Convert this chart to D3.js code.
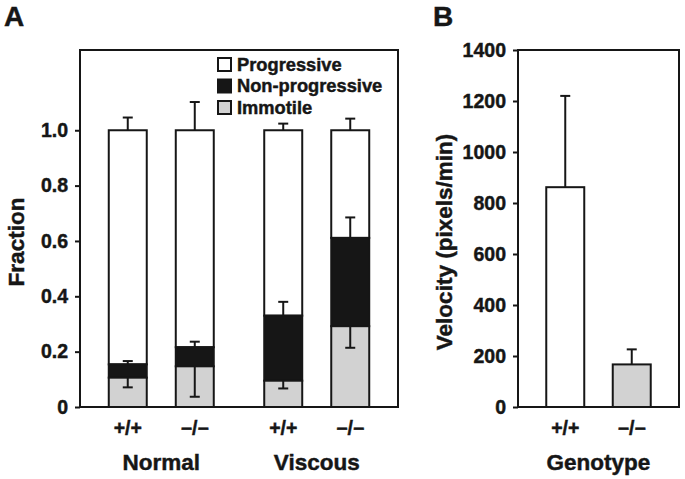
<!DOCTYPE html>
<html><head><meta charset="utf-8">
<script src="https://cdn.jsdelivr.net/npm/d3@7"></script>
<style>body{margin:0;background:#fff}</style></head><body>
<svg id="c" width="685" height="479"></svg>
<script>
// ---- data ----
const groups = ["Normal", "Viscous"];
const genotypes = ["+/+", "\u2212/\u2212"];
const seriesNames = ["Progressive", "Non-progressive", "Immotile"];
const immotile       = [0.106, 0.147, 0.095, 0.292];
const nonProgressive = [0.048, 0.069, 0.235, 0.319];
const progressive    = [0.846, 0.784, 0.670, 0.389];
const immotileErr    = [0.035, 0.110, 0.028, 0.078];
const nonProgErr     = [0.012, 0.020, 0.050, 0.074];
const progErr        = [0.046, 0.102, 0.024, 0.042];
const fractionTicks  = [0, 0.2, 0.4, 0.6, 0.8, 1.0];
const velocity       = [862, 167];
const velocityErr    = [358, 59];
const velocityTicks  = [0, 200, 400, 600, 800, 1000, 1200, 1400];
const fractionMax = 1.29, velocityMax = 1400;

// ---- styles ----
const INK = "#161616";
const GRAY = "#d2d2d2";
const fills = {"Progressive": "#ffffff", "Non-progressive": "#161616", "Immotile": GRAY};
const FONT = "'Liberation Sans', Arial, Helvetica, sans-serif";
const TICK = 19.5, TITLE = 22.5, LEG = 18.3;

const svg = d3.select("#c");
function txt(sel, size) {
  return sel.attr("font-family", FONT).attr("font-weight", "bold").attr("font-size", size)
    .attr("fill", INK).attr("stroke", INK).attr("stroke-width", 0.45);
}

// ---- Panel A ----
const A = {l: 80, r: 398, t: 50, b: 407};
const yA = d3.scaleLinear().domain([0, fractionMax]).range([A.b, A.t]);
const xOuter = d3.scaleBand().domain(groups).range([A.l, A.r]).paddingInner(0.138).paddingOuter(0.0917);
const xInner = d3.scaleBand().domain(genotypes).range([0, xOuter.bandwidth()]).paddingInner(0.433).paddingOuter(0.2165);

const rows = [];
groups.forEach((g, gi) => genotypes.forEach((gt, ti) => {
  const i = gi * genotypes.length + ti;
  rows.push({group: g, genotype: gt, "Immotile": immotile[i], "Non-progressive": nonProgressive[i],
    "Progressive": progressive[i], err: {"Immotile": immotileErr[i], "Non-progressive": nonProgErr[i], "Progressive": progErr[i]}});
}));
const stack = d3.stack().keys(["Immotile", "Non-progressive", "Progressive"]);
const layers = stack(rows);
const bx = d => xOuter(d.data.group) + xInner(d.data.genotype);
const capW = 10;

// bars
const barG = svg.append("g");
layers.slice().reverse().forEach(layer => {
  barG.selectAll(null).data(layer).join("rect")
    .attr("x", d => bx(d))
    .attr("width", xInner.bandwidth())
    .attr("y", d => yA(d[1]))
    .attr("height", d => yA(d[0]) - yA(d[1]))
    .attr("fill", fills[layer.key])
    .attr("stroke", INK).attr("stroke-width", 2);
});
// error bars: immotile downward, others upward from segment tops
const errG = svg.append("g").attr("stroke", INK).attr("stroke-width", 2);
layers.forEach(layer => {
  layer.forEach(d => {
    const cx = bx(d) + xInner.bandwidth() / 2;
    const e = d.data.err[layer.key];
    const y0 = d[1];
    const y1 = layer.key === "Immotile" ? y0 - e : y0 + e;
    errG.append("line").attr("x1", cx).attr("x2", cx).attr("y1", yA(y0)).attr("y2", yA(y1));
    errG.append("line").attr("x1", cx - capW / 2).attr("x2", cx + capW / 2).attr("y1", yA(y1)).attr("y2", yA(y1));
  });
});

// frame
svg.append("rect").attr("x", A.l).attr("y", A.t).attr("width", A.r - A.l).attr("height", A.b - A.t)
  .attr("fill", "none").attr("stroke", INK).attr("stroke-width", 2);

// y axis
const axA = svg.append("g").attr("transform", `translate(${A.l},0)`)
  .call(d3.axisLeft(yA).tickValues(fractionTicks).tickSize(5).tickPadding(7)
    .tickFormat(d => d === 0 ? "0" : d3.format(".1f")(d)));
axA.select(".domain").remove();
axA.selectAll("line").attr("stroke", INK).attr("stroke-width", 2);
txt(axA.selectAll("text"), TICK);

// x labels
txt(svg.append("g").selectAll(null).data(rows).join("text")
  .attr("x", d => xOuter(d.group) + xInner(d.genotype) + xInner.bandwidth() / 2)
  .attr("y", 435).attr("text-anchor", "middle"), TICK)
  .text(d => d.genotype);
txt(svg.append("g").selectAll(null).data(groups).join("text")
  .attr("x", d => xOuter(d) + xOuter.bandwidth() / 2).attr("y", 470).attr("text-anchor", "middle"), TITLE)
  .text(d => d);

// y title
txt(svg.append("text").attr("transform", "translate(24,242) rotate(-90)").attr("text-anchor", "middle"), TITLE)
  .text("Fraction");

// legend
const leg = svg.append("g");
seriesNames.forEach((s, i) => {
  const yy = 58 + i * 21.5;
  leg.append("rect").attr("x", 218).attr("y", yy).attr("width", 13).attr("height", 13)
    .attr("fill", fills[s]).attr("stroke", INK).attr("stroke-width", 2);
  txt(leg.append("text").attr("x", 237).attr("y", yy + 12.5), LEG).text(s);
});

// panel label
txt(svg.append("text").attr("x", 4).attr("y", 26), 28).text("A");

// ---- Panel B ----
const B = {l: 518, r: 679, t: 50, b: 407};
const yB = d3.scaleLinear().domain([0, velocityMax]).range([B.b, B.t]);
const xB = d3.scaleBand().domain(genotypes).range([B.l, B.r]).paddingInner(0.4286).paddingOuter(0.425);
const vData = genotypes.map((g, i) => ({genotype: g, v: velocity[i], e: velocityErr[i]}));

svg.append("g").selectAll(null).data(vData).join("rect")
  .attr("x", d => xB(d.genotype)).attr("width", xB.bandwidth())
  .attr("y", d => yB(d.v)).attr("height", d => yB(0) - yB(d.v))
  .attr("fill", (d, i) => i === 0 ? "#ffffff" : GRAY)
  .attr("stroke", INK).attr("stroke-width", 2);
const eB = svg.append("g").attr("stroke", INK).attr("stroke-width", 2);
vData.forEach(d => {
  const cx = xB(d.genotype) + xB.bandwidth() / 2;
  eB.append("line").attr("x1", cx).attr("x2", cx).attr("y1", yB(d.v)).attr("y2", yB(d.v + d.e));
  eB.append("line").attr("x1", cx - capW / 2).attr("x2", cx + capW / 2).attr("y1", yB(d.v + d.e)).attr("y2", yB(d.v + d.e));
});

svg.append("rect").attr("x", B.l).attr("y", B.t).attr("width", B.r - B.l).attr("height", B.b - B.t)
  .attr("fill", "none").attr("stroke", INK).attr("stroke-width", 2);

const axB = svg.append("g").attr("transform", `translate(${B.l},0)`)
  .call(d3.axisLeft(yB).tickValues(velocityTicks).tickSize(5).tickPadding(7).tickFormat(d3.format("d")));
axB.select(".domain").remove();
axB.selectAll("line").attr("stroke", INK).attr("stroke-width", 2);
txt(axB.selectAll("text"), TICK);

txt(svg.append("g").selectAll(null).data(genotypes).join("text")
  .attr("x", d => xB(d) + xB.bandwidth() / 2).attr("y", 435).attr("text-anchor", "middle"), TICK)
  .text(d => d);
txt(svg.append("text").attr("x", (B.l + B.r) / 2).attr("y", 470).attr("text-anchor", "middle"), TITLE)
  .text("Genotype");
txt(svg.append("text").attr("transform", "translate(452,242) rotate(-90)").attr("text-anchor", "middle"), TITLE)
  .text("Velocity (pixels/min)");
txt(svg.append("text").attr("x", 433).attr("y", 26), 28).text("B");
</script>
</body></html>
